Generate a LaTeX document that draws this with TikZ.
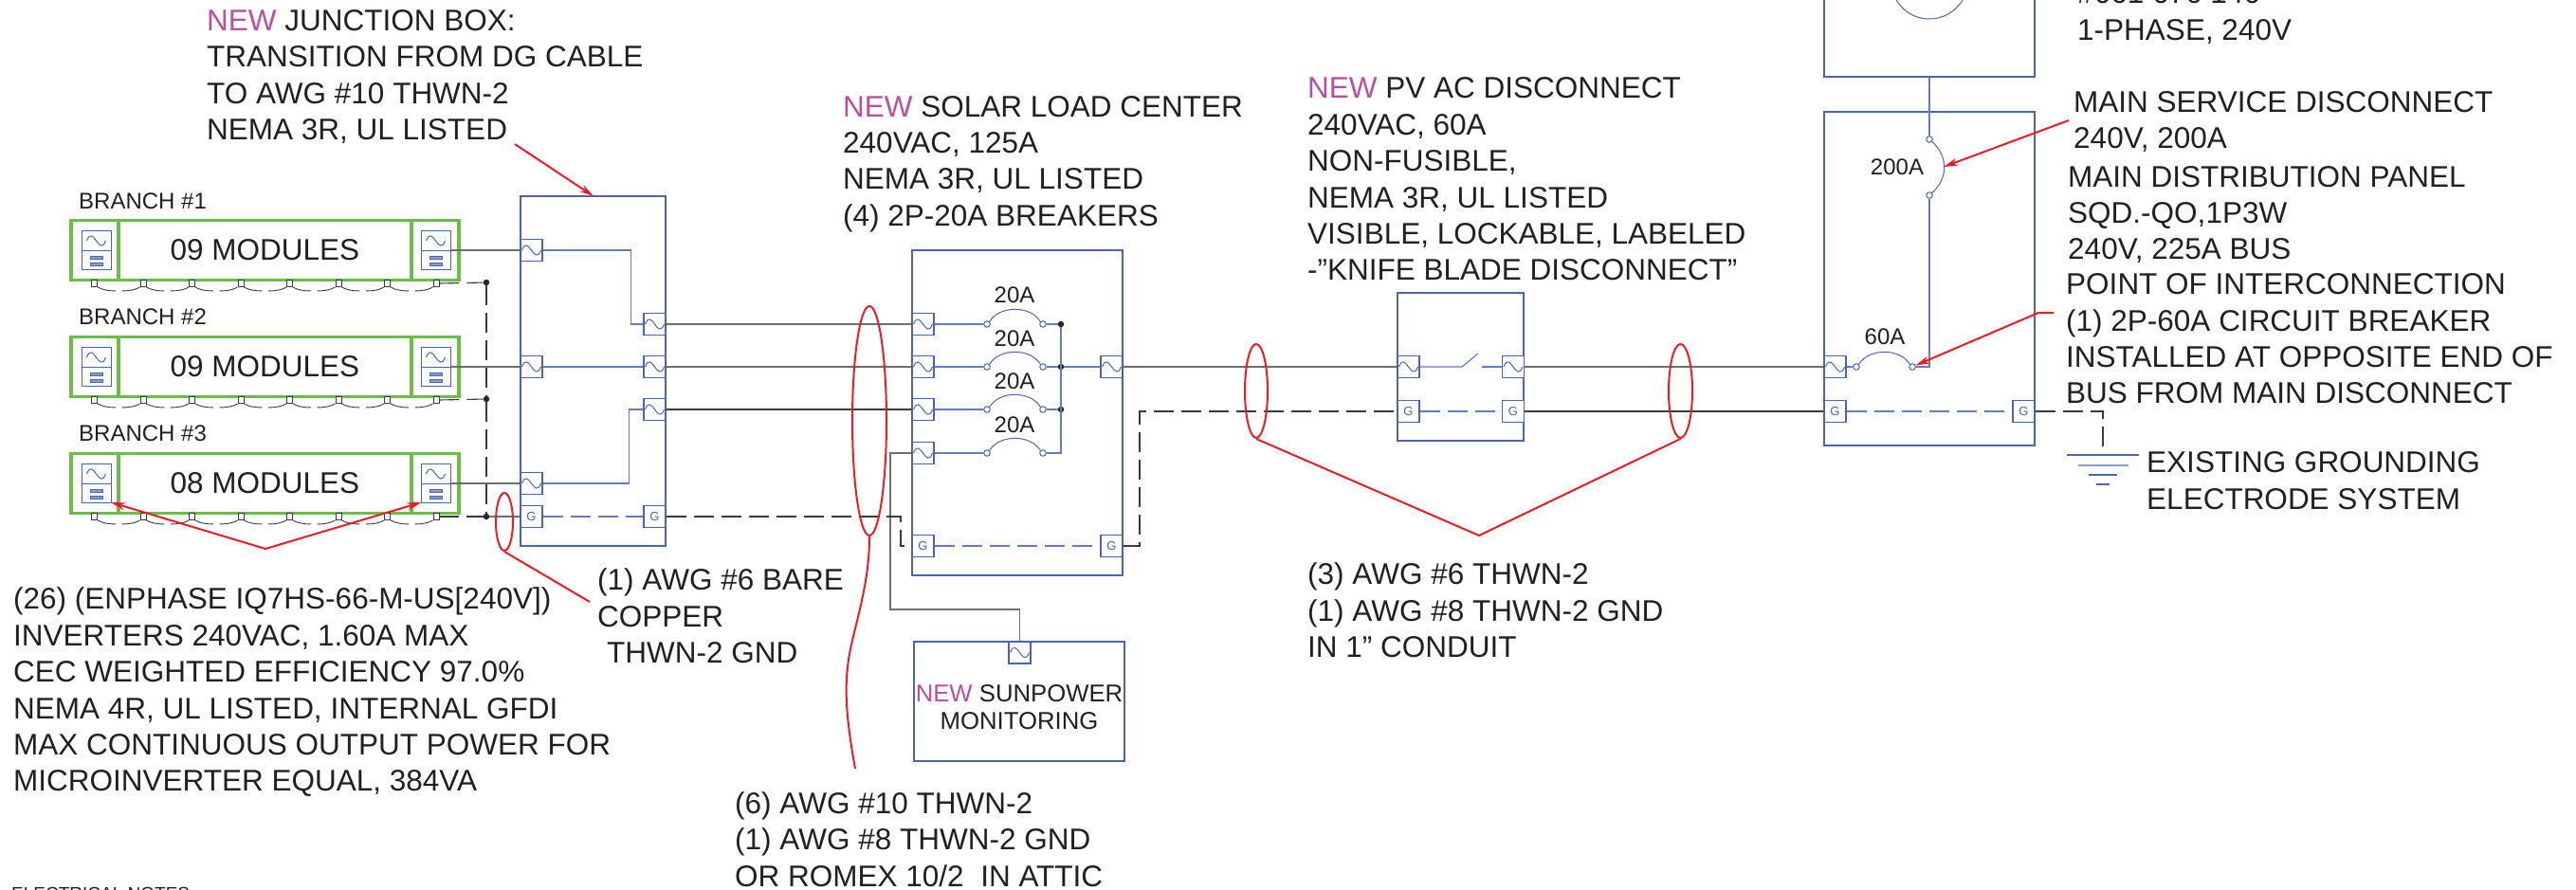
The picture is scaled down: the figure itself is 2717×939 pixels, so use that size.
\documentclass[tikz,border=0pt]{standalone}
\usepackage{fontspec}
\setmainfont{Liberation Sans}
\usetikzlibrary{arrows.meta,shapes.geometric}
\definecolor{panelblue}{HTML}{4A64B0}
\definecolor{barblue}{HTML}{8A9CD0}
\definecolor{modgreen}{HTML}{6ABD45}
\definecolor{wiregrey}{HTML}{6D6E71}
\definecolor{wiredark}{HTML}{3A3A3C}
\definecolor{calloutred}{HTML}{ED1C24}
\definecolor{inkblack}{HTML}{231F20}
\definecolor{newpink}{HTML}{B94FA0}
\newcommand{\newtag}{{\color{newpink}NEW}}
\begin{document}
\begin{tikzpicture}[x=1pt, y=-1pt, >={Stealth[length=15pt,width=8pt]},
        note/.style={font=\fontsize{31.5}{38.4}\selectfont, text=inkblack, align=left, inner sep=0, anchor=west},
        amps/.style={font=\fontsize{24}{28}\selectfont, text=inkblack, inner sep=0},
        panel/.style={draw=panelblue, line width=1.2pt, inner sep=0},
        term/.style={draw=panelblue, line width=1.1pt, fill=white, inner sep=0, minimum width=23pt, minimum height=23pt},
        modframe/.style={draw=modgreen, line width=3.6pt, inner sep=0},
        invbox/.style={draw=panelblue, line width=1pt, fill=white, inner sep=0, minimum width=31pt, minimum height=41pt},
        tinyg/.style={draw=wiredark, line width=0.8pt, fill=white, inner sep=0, minimum width=6pt, minimum height=7pt},
        jdot/.style={circle, fill=black!85, inner sep=0, minimum size=6.5pt},
        pinpt/.style={circle, draw=panelblue, line width=1pt, fill=white, inner sep=0, minimum size=6.5pt},
        wire/.style={draw=wiregrey, line width=1.3pt},
        darkwire/.style={draw=wiredark, line width=1.1pt},
        bluewire/.style={draw=panelblue!85, line width=1.2pt},
        thinblue/.style={draw=panelblue, line width=1pt},
        gnddash/.style={dash pattern=on 21pt off 8pt},
        callout/.style={draw=calloutred, line width=2pt},
        loop/.style={ellipse, draw=calloutred, line width=2pt, inner sep=0}]
        \useasboundingbox (0, 0) rectangle (2717, 939);

        \newcommand{\acwave}[3]{
            \draw[thinblue] (#2-#1, #3) .. controls (#2-0.3*#1, #3-1.8*#1) and (#2+0.3*#1, #3+1.8*#1) .. (#2+#1, #3);
        }
        \newcommand{\acterm}[3]{
            \node[term] (#1) at (#2, #3) {};
            \acwave{10}{#2}{#3}
        }
        \newcommand{\gterm}[3]{
            \node[term, font=\fontsize{13}{13}\selectfont, text=panelblue] (#1) at (#2, #3) {G\hspace{6pt}};
        }
        \newcommand{\inverter}[3]{
            \node[invbox] (#1) at (#2, #3) {};
            \draw[thinblue] (#1.west) -- (#1.east);
            \acwave{10}{#2}{#3-10}
            \draw[thinblue, fill=barblue] (#2-6.5, #3+6.5) rectangle (#2+6.5, #3+9.5);
            \draw[thinblue, fill=barblue] (#2-6.5, #3+13.5) rectangle (#2+6.5, #3+16.5);
        }
        \newcommand{\modulerow}[3]{
            \node[modframe, minimum width=409pt, minimum height=63pt] (frame#1) at (279.5, #2) {};
            \draw[draw=modgreen, line width=3.6pt] (125, #2-31.5) -- (125, #2+31.5);
            \draw[draw=modgreen, line width=3.6pt] (434, #2-31.5) -- (434, #2+31.5);
            \node[note, anchor=center] (mods#1) at (279.5, #2) {#3};
            \inverter{invl#1}{101.5}{#2}
            \inverter{invr#1}{459.5}{#2}
            \foreach \i/\xg in {1/99.6, 2/151, 3/202.5, 4/254, 5/305.5, 6/357, 7/408.6, 8/460} {
                \node[tinyg] (tg#1\i) at (\xg, #2+35) {};
            }
            \foreach \i in {1,...,7} {
                \draw[darkwire, line width=0.9pt] (tg#1\i.south east) .. controls +(5,3) and +(-8,0) .. +(19,4);
            }
            \foreach \i in {2,...,8} {
                \draw[darkwire, line width=0.9pt] (tg#1\i.south west) .. controls +(-5,3) and +(8,0) .. +(-19,4);
            }
        }
        \newcommand{\breaker}[4]{
            \node[pinpt] (#1a) at (#2, #4) {};
            \node[pinpt] (#1b) at (#3, #4) {};
            \draw[thinblue] (#1a.north east) .. controls (#2+13, #4-20) and (#3-13, #4-20) .. (#1b.north west);
        }

        \node[panel, minimum width=153pt, minimum height=369pt] (jbox) at (625.5, 391.5) {};
        \node[panel, minimum width=222pt, minimum height=343pt] (loadctr) at (1073, 435.5) {};
        \node[panel, minimum width=133pt, minimum height=156pt] (pvdisc) at (1540.5, 387) {};
        \node[panel, minimum width=222pt, minimum height=352pt] (mdp) at (2035, 294) {};
        \node[panel, minimum width=222pt, minimum height=162pt] (meter) at (2035, 0) {};
        \node[panel, minimum width=222pt, minimum height=126pt] (monitor) at (1075, 740) {};
        \node[circle, draw=panelblue, line width=1pt, inner sep=0, minimum size=81pt] (meterdial) at (2035, -20.5) {};

        \modulerow{1}{264}{09 MODULES}
        \modulerow{2}{387}{09 MODULES}
        \modulerow{3}{510}{08 MODULES}

        \node[amps, anchor=west] (branch1) at (83, 212) {BRANCH \#1};
        \node[amps, anchor=west] (branch2) at (83, 334) {BRANCH \#2};
        \node[amps, anchor=west] (branch3) at (83, 457) {BRANCH \#3};

        \acterm{jbl1}{560.5}{264}
        \acterm{jbl2}{560.5}{387}
        \acterm{jbl3}{560.5}{510}
        \acterm{jbr1}{690.5}{342}
        \acterm{jbr2}{690.5}{387}
        \acterm{jbr3}{690.5}{432}
        \gterm{jbgl}{560.5}{545}
        \gterm{jbgr}{690.5}{545}

        \acterm{loadl1}{973.5}{342}
        \acterm{loadl2}{973.5}{387}
        \acterm{loadl3}{973.5}{432}
        \acterm{loadl4}{973.5}{478}
        \acterm{loadout}{1172.5}{387}
        \gterm{loadgl}{973.5}{576}
        \gterm{loadgr}{1172.5}{576}
        \breaker{brka}{1041}{1100}{342}
        \breaker{brkb}{1041}{1100}{387}
        \breaker{brkc}{1041}{1100}{432}
        \breaker{brkd}{1041}{1100}{478}
        \node[amps] (ampa) at (1070, 311) {20A};
        \node[amps] (ampb) at (1070, 357) {20A};
        \node[amps] (ampc) at (1070, 402) {20A};
        \node[amps] (ampd) at (1070, 448) {20A};
        \node[jdot] (busa) at (1119, 342) {};
        \node[jdot] (busb) at (1119, 387) {};
        \node[jdot] (busc) at (1119, 432) {};
        \coordinate (busd) at (1119, 478);

        \acterm{pvl}{1485.5}{387}
        \acterm{pvr}{1596}{387}
        \gterm{pvgl}{1485.5}{434}
        \gterm{pvgr}{1596}{434}

        \acterm{mdpin}{1935.5}{387}
        \gterm{mdpgl}{1935.5}{434}
        \gterm{mdpgr}{2134.5}{434}
        \breaker{brksixty}{1958}{2017}{387}
        \node[pinpt] (mainb) at (2035, 147) {};
        \node[pinpt] (mainc) at (2035, 206) {};
        \draw[thinblue] (mainb) .. controls (2055, 165) and (2055, 188) .. (mainc);
        \node[amps] (ampmain) at (2001, 176) {200A};
        \node[amps] (ampsixty) at (1988, 355) {60A};

        \acterm{monac}{1075.5}{688.5}

        \node[jdot] (gdot1) at (513, 298) {};
        \node[jdot] (gdot2) at (513, 421) {};
        \node[jdot] (gdot3) at (513, 545) {};
        \draw[darkwire, gnddash] (tg18.east) -- (gdot1);
        \draw[darkwire, gnddash] (tg28.east) -- (gdot2);
        \draw[darkwire, gnddash] (tg38.east) -- (gdot3);
        \draw[darkwire, gnddash] (gdot1) -- (gdot2) -- (gdot3);
        \draw[wire] (gdot3) -- (jbgl.west);

        \draw[wire] (invr1.east) -- (jbl1.west);
        \draw[wire] (invr2.east) -- (jbl2.west);
        \draw[wire] (invr3.east) -- (jbl3.west);
        \draw[bluewire] (jbl1.east) -- ++(93, 0) |- (jbr1.west);
        \draw[bluewire] (jbl2.east) -- (jbr2.west);
        \draw[bluewire] (jbl3.east) -- ++(91, 0) |- (jbr3.west);
        \draw[bluewire, gnddash] (jbgl.east) -- (jbgr.west);

        \draw[wire] (jbr1.east) -- (loadl1.west);
        \draw[wire] (jbr2.east) -- (loadl2.west);
        \draw[darkwire] (jbr3.east) -- (loadl3.west);
        \coordinate (monjog) at (939, 643);
        \draw[wire] (loadl4.west) -| (monjog) -| (monac.north);
        \coordinate (gjoga) at (950, 576);
        \draw[darkwire, gnddash] (jbgr.east) -| (gjoga) -- (loadgl.west);

        \draw[bluewire] (loadl1.east) -- (brkaa);
        \draw[bluewire] (loadl2.east) -- (brkba);
        \draw[bluewire] (loadl3.east) -- (brkca);
        \draw[bluewire] (loadl4.east) -- (brkda);
        \draw[bluewire] (brkab) -- (busa);
        \draw[bluewire] (brkbb) -- (busb);
        \draw[bluewire] (brkcb) -- (busc);
        \draw[bluewire] (brkdb) -- (busd) -- (busa);
        \draw[bluewire] (busb) -- (loadout.west);
        \draw[bluewire, gnddash] (loadgl.east) -- (loadgr.west);

        \draw[wire] (loadout.east) -- (pvl.west);
        \coordinate (gjogb) at (1202, 434);
        \draw[darkwire, gnddash] (loadgr.east) -| (gjogb) -- (pvgl.west);

        \coordinate (swhinge) at (1542, 387);
        \coordinate (swtip) at (1559, 373);
        \coordinate (swfix) at (1562.5, 387);
        \draw[bluewire] (pvl.east) -- (swhinge) -- (swtip);
        \draw[bluewire] (swfix) -- (pvr.west);
        \draw[bluewire, gnddash] (pvgl.east) -- (pvgr.west);

        \draw[wire] (pvr.east) -- (mdpin.west);
        \draw[darkwire] (pvgr.east) -- (mdpgl.west);
        \draw[bluewire] (mdpin.east) -- (brksixtya);
        \coordinate (mainfoot) at (2035, 387);
        \draw[bluewire] (brksixtyb) -- (mainfoot) -- (mainc);
        \draw[bluewire] (meter.south) -- (mainb);
        \draw[bluewire, gnddash] (mdpgl.east) -- (mdpgr.west);

        \coordinate (earthtop) at (2218, 480);
        \coordinate (earthjog) at (2218, 434);
        \draw[darkwire, gnddash] (mdpgr.east) -- (earthjog) -- (earthtop);
        \draw[thinblue, line width=1.1pt] (earthtop) ++(-38, 0) -- ++(76, 0);
        \draw[draw=barblue, line width=2pt] (earthtop) ++(-26, 11) -- ++(53, 0);
        \draw[thinblue, line width=1.1pt] (earthtop) ++(-15, 21) -- ++(30, 0);
        \draw[thinblue, line width=1.1pt] (earthtop) ++(-7, 31) -- ++(14, 0);

        \node[loop, minimum width=18pt, minimum height=61pt] (gndloop) at (532, 550.5) {};
        \node[loop, minimum width=36pt, minimum height=242pt] (dcloop) at (917, 444) {};
        \node[loop, minimum width=24pt, minimum height=99pt] (acloopa) at (1325, 412.5) {};
        \node[loop, minimum width=25pt, minimum height=99pt] (acloopb) at (1772.5, 412.5) {};

        \coordinate (invtip) at (280, 579);
        \coordinate (invheada) at (117, 530);
        \coordinate (invheadb) at (444.5, 530);
        \draw[callout, ->] (invtip) -- (invheada);
        \draw[callout, ->] (invtip) -- (invheadb);
        \coordinate (gndend) at (622, 635);
        \draw[callout] (gndloop.south) -- (gndend);
        \coordinate (dcend) at (902, 811);
        \draw[callout] (dcloop.south) .. controls (917, 610) and (906, 645) .. (898, 680) .. controls (889, 720) and (892, 755) .. (dcend);
        \coordinate (actip) at (1560, 565);
        \draw[callout] (acloopa.south) -- (actip) -- (acloopb.south);
        \coordinate (jbstart) at (543, 152);
        \coordinate (jbend) at (626, 207);
        \draw[callout, ->] (jbstart) -- (jbend);
        \coordinate (mainstart) at (2182, 127);
        \coordinate (mainend) at (2050, 176);
        \draw[callout, ->] (mainstart) -- (mainend);
        \coordinate (sixtystart) at (2166, 330);
        \coordinate (sixtyknee) at (2150, 330);
        \draw[callout, ->] (sixtystart) -- (sixtyknee) -- (brksixtyb);

        \node[note] (jbnote) at (218, 81) {\newtag{} JUNCTION BOX:\\TRANSITION FROM DG CABLE\\TO AWG \#10 THWN-2\\NEMA 3R, UL LISTED};
        \node[note] (loadnote) at (889, 173) {\newtag{} SOLAR LOAD CENTER\\240VAC, 125A\\NEMA 3R, UL LISTED\\(4) 2P-20A BREAKERS};
        \node[note] (pvnote) at (1379, 189) {\newtag{} PV AC DISCONNECT\\240VAC, 60A\\NON-FUSIBLE,\\NEMA 3R, UL LISTED\\VISIBLE, LOCKABLE, LABELED\\-"KNIFE BLADE DISCONNECT"};
        \node[note] (invnote) at (14, 730.5) {(26) (ENPHASE IQ7HS-66-M-US[240V])\\INVERTERS 240VAC, 1.60A MAX\\CEC WEIGHTED EFFICIENCY 97.0\%\\NEMA 4R, UL LISTED, INTERNAL GFDI\\MAX CONTINUOUS OUTPUT POWER FOR\\MICROINVERTER EQUAL, 384VA};
        \node[note] (gndnote) at (630, 650) {(1) AWG \#6 BARE\\COPPER\\\hspace*{10pt}THWN-2 GND};
        \node[note] (acnote) at (1379, 644) {(3) AWG \#6 THWN-2\\(1) AWG \#8 THWN-2 GND\\IN 1" CONDUIT};
        \node[note] (dcnote) at (775, 885.5) {(6) AWG \#10 THWN-2\\(1) AWG \#8 THWN-2 GND\\OR ROMEX 10/2\ \ IN ATTIC};
        \node[note] (meternote) at (2191, 14) {\#661 676 146\\1-PHASE, 240V};
        \node[note] (mainnote) at (2187, 128.5) {MAIN SERVICE DISCONNECT\\240V, 200A};
        \node[note] (mdpnote) at (2181, 226.5) {MAIN DISTRIBUTION PANEL\\SQD.-QO,1P3W\\240V, 225A BUS};
        \node[note] (poinote) at (2179, 357.5) {POINT OF INTERCONNECTION\\(1) 2P-60A CIRCUIT BREAKER\\INSTALLED AT OPPOSITE END OF\\BUS FROM MAIN DISCONNECT};
        \node[note] (earthnote) at (2264, 507) {EXISTING GROUNDING\\ELECTRODE SYSTEM};
        \node[font=\fontsize{25.7}{29}\selectfont, text=inkblack, align=center, inner sep=0] (monnote) at (1075, 746) {\newtag{} SUNPOWER\\MONITORING};
        \node[font=\fontsize{19}{19}\selectfont, text=inkblack, inner sep=0, anchor=base west] (elecnotes) at (12, 949) {ELECTRICAL NOTES};
    \end{tikzpicture}
\end{document}
